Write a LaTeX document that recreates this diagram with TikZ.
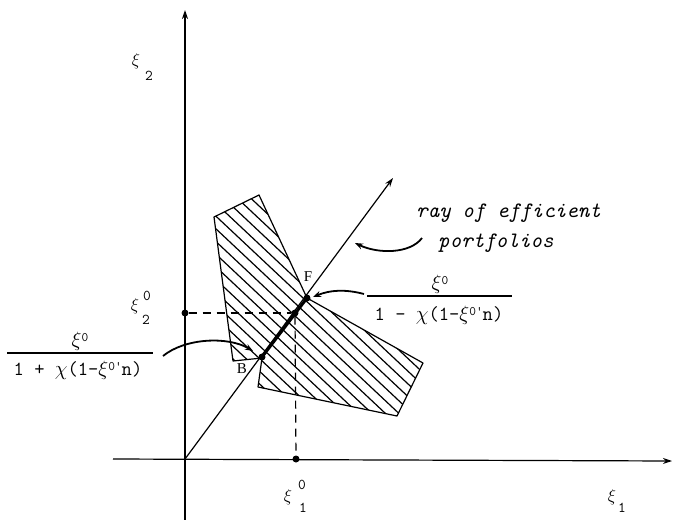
\documentclass[tikz,border=0pt]{standalone}
\usepackage{fontspec}
\setmainfont{Liberation Serif}
\usetikzlibrary{arrows.meta}
\newcommand{\rsup}[1]{\raisebox{0.55ex}{\fontsize{13}{13}\selectfont #1}}
\begin{document}
\begin{tikzpicture}[x=1pt,y=-1pt,
  ln/.style={line width=1.2pt},
  arr/.style={-{Stealth[length=9pt,width=6pt]}, line width=1.2pt},
  carr/.style={-{Stealth[length=8pt,width=6pt]}, line width=1.8pt},
  dotn/.style={circle,fill,inner sep=0pt,minimum size=7pt},
  lbl/.style={font=\ttfamily\fontsize{20}{20}\selectfont, inner sep=0pt},
  axl/.style={font=\ttfamily\fontsize{18}{18}\selectfont, inner sep=0pt},
  sub/.style={font=\ttfamily\fontsize{15}{15}\selectfont, inner sep=0pt},
  ital/.style={font=\ttfamily\itshape\fontsize{22}{22}\selectfont, inner sep=0pt},
  pt/.style={font=\fontsize{15}{15}\selectfont, inner sep=0pt},
  dashline/.style={line width=1.2pt, dash pattern=on 8pt off 6pt}]
\useasboundingbox (0,0) rectangle (673,520);

% key points
\coordinate (O) at (185,459);
\coordinate (Ytop) at (185,10);
\coordinate (Ybot) at (185,520);
\coordinate (Xl) at (113,459);
\coordinate (Xr) at (672,461);
\coordinate (Rtip) at (393,178);

% shaded region
\coordinate (P1) at (214,217);
\coordinate (P2) at (259,195);
\coordinate (P3) at (307,298);
\coordinate (P4) at (423,363);
\coordinate (P5) at (397,416);
\coordinate (P6) at (258,387);
\coordinate (P7) at (262,358);
\coordinate (P8) at (233,361);
\begin{scope}
  \clip (P1) -- (P2) -- (P3) -- (P4) -- (P5) -- (P6) -- (P7) -- (P8) -- cycle;
  \foreach \x in {-300,-286.5,...,450}
    \draw[line width=1.2pt] (\x,150) -- ++(330,310);
\end{scope}
\draw[ln, line join=round] (P1) -- (P2) -- (P3) -- (P4) -- (P5) -- (P6) -- (P7) -- (P8) -- cycle;

% axes
\draw[arr] (Ybot) -- (Ytop);
\draw[arr] (Xl) -- (Xr);
\draw[arr] (O) -- (Rtip);

% dots
\node[dotn] (F) at (307,298) {};
\node[dotn] (B) at (262,357) {};
\node[dotn] (Q) at (295,313) {};
\node[dotn] (Y0) at (185,313) {};
\node[dotn] (X0) at (296,459) {};

\draw[line width=3pt] (B.center) -- (F.center);
\draw[dashline] (Y0) -- (Q);
\draw[dashline] (Q) -- (X0);

% point labels
\node[pt] (Fl) at (308,277) {F};
\node[pt] (Bl) at (242,369) {B};

% axis labels
\node[axl] (xi2) at (136,61) {$\xi$};
\node[sub] (xi2s) at (149,76) {2};
\node[axl] (xi1) at (612,497) {$\xi$};
\node[sub] (xi1s) at (622,508) {1};
\node[axl] (x20) at (135,306) {$\xi$};
\node[sub] (x20p) at (147,296) {0};
\node[sub] (x20s) at (146,320) {2};
\node[axl] (x10) at (288,497) {$\xi$};
\node[sub] (x10p) at (302,485) {0};
\node[sub] (x10s) at (303,508) {1};

% right fraction
\coordinate (fRl) at (367,296);
\coordinate (fRr) at (512,296);
\draw[ln] (fRl) -- (fRr);
\node[lbl] (nR) at (440,284) {$\xi$\rsup{0}};
\node[lbl] (dR) at (439,315) {1 - $\chi$(1-$\xi$\rsup{0\textquotesingle}n)};

% left fraction
\coordinate (fLl) at (7,353);
\coordinate (fLr) at (153,353);
\draw[ln] (fLl) -- (fLr);
\node[lbl] (nL) at (80,341) {$\xi$\rsup{0}};
\node[lbl] (dL) at (78,370) {1 + $\chi$(1-$\xi$\rsup{0\textquotesingle}n)};

% ray label
\node[ital, anchor=base west] (r1) at (416,217) {ray of efficient};
\node[ital, anchor=base west] (r2) at (438,247) {portfolios};

% curved arrows
\coordinate (a1s) at (422,238);
\coordinate (a1e) at (355,243);
\draw[carr] (a1s) .. controls (410,254) and (378,254) .. (a1e);
\coordinate (a2s) at (364,294);
\coordinate (a2e) at (313,297);
\draw[carr] (a2s) .. controls (345,289) and (330,290) .. (a2e);
\coordinate (a3s) at (163,356);
\coordinate (a3e) at (253,351);
\draw[carr] (a3s) .. controls (185,338) and (228,336) .. (a3e);
\end{tikzpicture}
\end{document}
